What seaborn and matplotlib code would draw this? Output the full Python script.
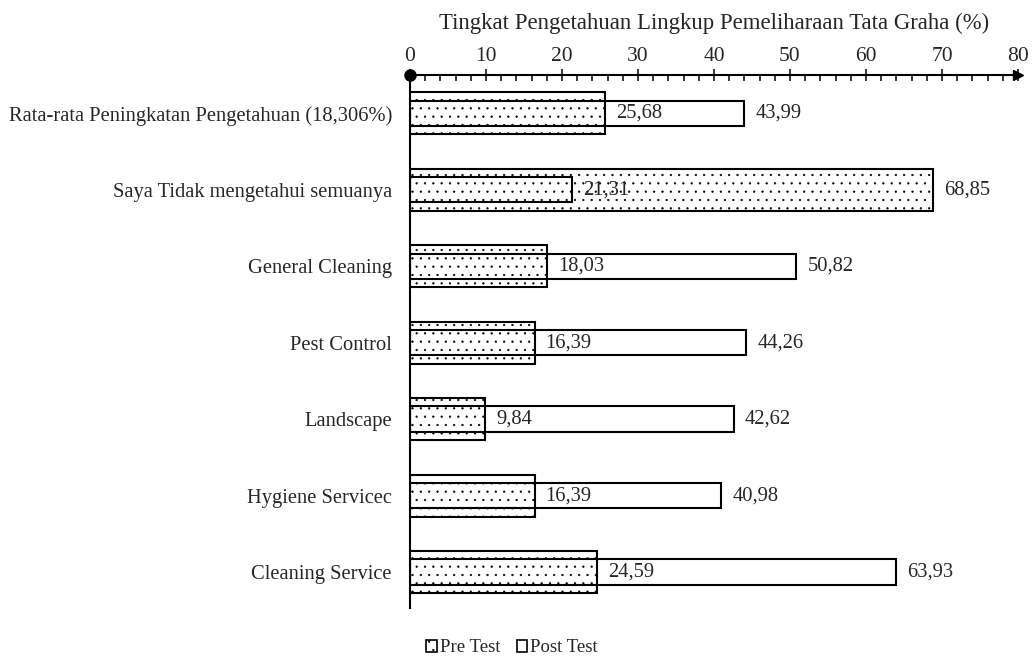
import matplotlib
matplotlib.use("Agg")
import matplotlib.pyplot as plt
import matplotlib.patches as mpatches
from matplotlib.ticker import MultipleLocator
import seaborn as sns
import pandas as pd

categories = [
    "Rata-rata Peningkatan Pengetahuan (18,306%)",
    "Saya Tidak mengetahui semuanya",
    "General Cleaning",
    "Pest Control",
    "Landscape",
    "Hygiene Servicec",
    "Cleaning Service",
]
pre_test = [25.68, 68.85, 18.03, 16.39, 9.84, 16.39, 24.59]
post_test = [43.99, 21.31, 50.82, 44.26, 42.62, 40.98, 63.93]
x_ticks = [0, 10, 20, 30, 40, 50, 60, 70, 80]
x_title = "Tingkat Pengetahuan Lingkup Pemeliharaan Tata Graha (%)"

sns.set_style("white")
plt.rcParams["font.family"] = ["Liberation Serif", "DejaVu Serif"]
plt.rcParams["hatch.linewidth"] = 0.4
plt.rcParams["hatch.color"] = "black"

df = pd.DataFrame({"cat": categories, "pre": pre_test, "post": post_test})

fig = plt.figure(figsize=(10.32, 6.59), dpi=100)
ax = fig.add_axes([0.3973, 0.0774, 0.9864 - 0.3973, 0.8862 - 0.0774])

sns.barplot(data=df, x="pre", y="cat", order=categories, orient="h",
            width=0.55, color="white", saturation=1, ax=ax, zorder=2)
n_pre = len(ax.patches)
for p in ax.patches:
    p.set_facecolor("white")
    p.set_edgecolor("black")
    p.set_linewidth(1.5)
    p.set_hatch("..")

sns.barplot(data=df, x="post", y="cat", order=categories, orient="h",
            width=0.33, color="white", saturation=1, ax=ax, zorder=3)
for p in ax.patches[n_pre:]:
    p.set_facecolor("none")
    p.set_edgecolor("black")
    p.set_linewidth(1.5)
    p.set_zorder(3)

fs = 14.8
for i, (a, b) in enumerate(zip(pre_test, post_test)):
    ax.annotate(f"{a:.2f}".replace(".", ","), (a, i), xytext=(8, 0),
                textcoords="offset points", va="center", ha="left", fontsize=fs, zorder=5)
    ax.annotate(f"{b:.2f}".replace(".", ","), (b, i), xytext=(8, 0),
                textcoords="offset points", va="center", ha="left", fontsize=fs, zorder=5)

ax.set_xlim(0, 80)
ax.set_ylim(6.47, -0.5)
ax.xaxis.set_ticks_position("top")
ax.xaxis.set_label_position("top")
ax.set_xticks(x_ticks)
ax.xaxis.set_minor_locator(MultipleLocator(2))
ax.tick_params(axis="x", which="major", direction="inout", length=9, width=1.3,
               labelsize=15.5, pad=2, top=True, bottom=False)
ax.tick_params(axis="x", which="minor", direction="in", length=4, width=1.3,
               top=True, bottom=False)
ax.tick_params(axis="y", length=0, labelsize=fs, pad=13)
ax.set_xlabel(x_title, fontsize=16.4, labelpad=13)
ax.set_ylabel("")
for s in ["right", "bottom"]:
    ax.spines[s].set_visible(False)
for s in ["top", "left"]:
    ax.spines[s].set_visible(True)
    ax.spines[s].set_color("black")
    ax.spines[s].set_linewidth(1.5)

ax.plot([0], [1], "o", color="black", markersize=8, transform=ax.transAxes,
        clip_on=False, zorder=6)
ax.plot([1.0], [1], ">", color="black", markersize=7, transform=ax.transAxes,
        clip_on=False, zorder=6)

h_pre = mpatches.Patch(facecolor="white", edgecolor="black", hatch="..", linewidth=1.2, label="Pre Test")
h_post = mpatches.Patch(facecolor="white", edgecolor="black", linewidth=1.2, label="Post Test")
fig.legend(handles=[h_pre, h_post], loc="center", bbox_to_anchor=(512 / 1032, 1 - 648 / 659),
           ncol=2, frameon=False, fontsize=13.5, handlelength=0.55, handleheight=0.55,
           handletextpad=0.15, columnspacing=0.9)

fig.savefig("out.png", dpi=100)
